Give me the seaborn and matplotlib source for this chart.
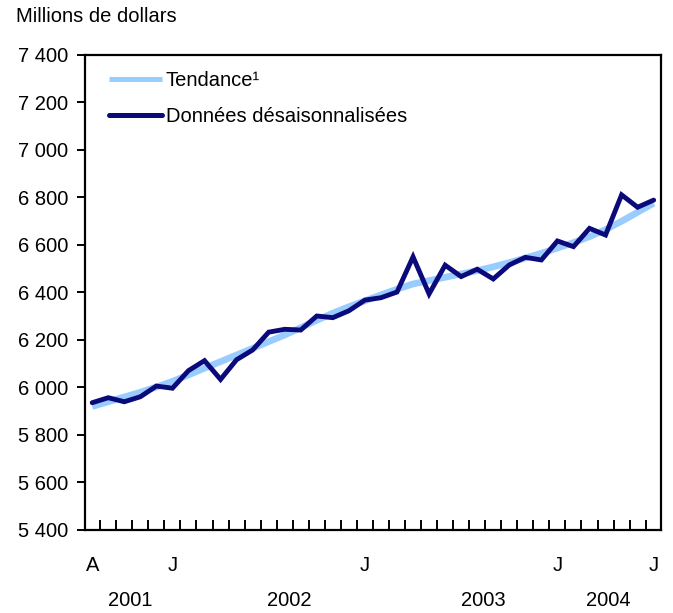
import numpy as np
import pandas as pd
import matplotlib
matplotlib.use("Agg")
import matplotlib.pyplot as plt
import matplotlib.transforms as mtransforms
from matplotlib.ticker import FuncFormatter, FixedLocator
import seaborn as sns

sns.set_theme(style="white")
plt.rcParams["font.family"] = ["Liberation Sans", "DejaVu Sans"]
plt.rcParams["text.color"] = "black"

# August 2001 to July 2004, monthly
months = pd.date_range("2001-08-01", periods=36, freq="MS")
seasonally_adjusted = [
    5936, 5957, 5940, 5961, 6006, 5997, 6071, 6113, 6034, 6117,
    6158, 6233, 6245, 6242, 6301, 6294, 6323, 6368, 6378, 6402,
    6550, 6394, 6515, 6467, 6498, 6457, 6516, 6548, 6537, 6617,
    6593, 6670, 6642, 6811, 6759, 6789,
]
trend = [
    5920, 5940, 5960, 5980, 6002, 6026, 6053, 6081, 6109, 6137,
    6165, 6193, 6221, 6252, 6283, 6313, 6340, 6365, 6390, 6414,
    6436, 6450, 6464, 6478, 6492, 6508, 6526, 6545, 6565, 6587,
    6610, 6635, 6665, 6700, 6738, 6776,
]
month_labels = ["A", "J", "J", "J", "J"]
month_label_idx = [0, 5, 17, 29, 35]
year_labels = ["2001", "2002", "2003", "2004"]
year_label_pos = [2.4, 12.27, 24.4, 32.2]

df = pd.DataFrame({
    "pos": np.arange(len(months)),
    "trend": trend,
    "sa": seasonally_adjusted,
})

fs = 14.5

fig = plt.figure(figsize=(6.73, 6.13), dpi=100)
ax = fig.add_axes([0.1263, 0.1354, 0.8557, 0.7749])

sns.lineplot(data=df, x="pos", y="trend", ax=ax, color="#99ccff",
             linewidth=4.8, label="Tendance¹", solid_capstyle="butt")
sns.lineplot(data=df, x="pos", y="sa", ax=ax, color="#0a0a7a",
             linewidth=3.5, label="Données désaisonnalisées",
             solid_joinstyle="miter")

ax.set_xlim(-0.45, 35.45)
ax.set_ylim(5400, 7400)
ax.set_yticks(np.arange(5400, 7401, 200))
ax.yaxis.set_major_formatter(FuncFormatter(lambda v, _: f"{v:,.0f}".replace(",", " ")))
ax.tick_params(axis="y", direction="out", length=6, width=1.4, pad=6,
               labelsize=fs, colors="black", left=True)

ax.xaxis.set_major_locator(FixedLocator(month_label_idx))
ax.set_xticklabels(month_labels)
ax.xaxis.set_minor_locator(FixedLocator(np.arange(len(months) - 1) + 0.5))
ax.tick_params(axis="x", which="major", length=0, pad=19, labelsize=fs,
               colors="black")
ax.tick_params(axis="x", which="minor", direction="in", length=7, width=1.4,
               bottom=True, color="black")

trans = mtransforms.blended_transform_factory(ax.transData, ax.transAxes)
for lab, p in zip(year_labels, year_label_pos):
    ax.text(p, -0.149, lab, transform=trans, ha="center", va="center",
            fontsize=fs)

for s in ax.spines.values():
    s.set_color("black")
    s.set_linewidth(1.6)

ax.set_xlabel("")
ax.set_ylabel("")
fig.text(16 / 673, 1 - 17 / 613, "Millions de dollars", ha="left",
         va="center", fontsize=fs)

leg = ax.legend(loc="upper left", bbox_to_anchor=(0.011, 1.004), frameon=False,
                fontsize=fs, handlelength=2.6, handletextpad=0.2,
                labelspacing=0.85)
for h in leg.get_lines():
    h.set_linewidth(3.6)

fig.savefig("out.png", dpi=100)
